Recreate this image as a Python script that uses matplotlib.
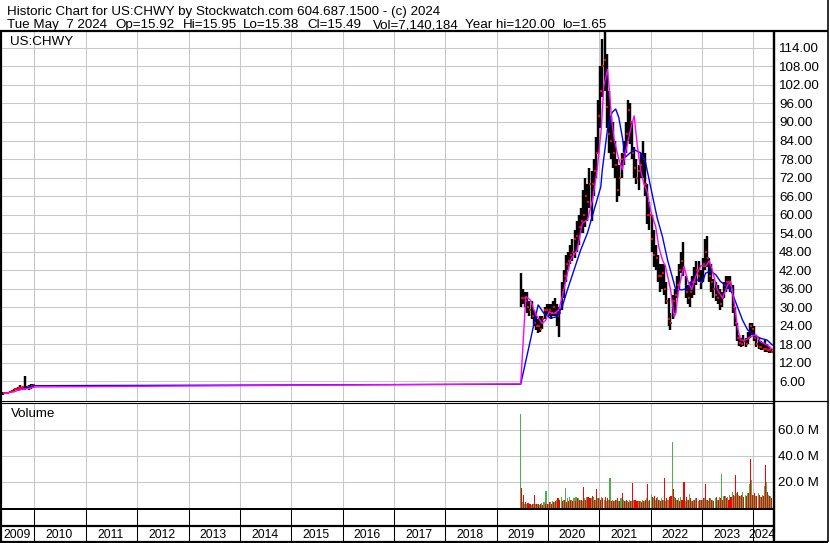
import matplotlib
matplotlib.use("Agg")
import matplotlib.pyplot as plt
import pandas as pd

plt.rcParams['font.family'] = ['Liberation Sans', 'DejaVu Sans']

W, H = 830, 543
XMIN, XMAX = 2009.367, 2024.39

# ---------------- data (half-month bars) ----------------
early_start = "2009-05-15"
early_hi = [2.4, 2.6, 2.5, 2.8, 3.2, 3.6, 3.9, 4.2, 4.6, 4.4, 7.7, 4.5, 4.8, 5.0, 5.2]
early_lo = [1.65, 1.8, 1.9, 2.0, 2.4, 2.8, 3.0, 3.2, 3.4, 3.5, 3.3, 3.4, 3.2, 3.6, 3.8]
early_cl = [2.0, 2.2, 2.1, 2.5, 2.9, 3.3, 3.6, 3.8, 3.9, 4.0, 3.6, 4.2, 3.8, 4.5, 4.6]

chwy_start = "2019-06-15"
hi = [41, 36, 35, 35, 32, 32, 29, 27, 26, 27, 27, 30, 31,                       # 2019
      31, 31, 32, 33, 31, 30, 38, 42, 47, 48, 50, 52, 55, 58, 60, 62, 68, 72, 70, 75, 74, 78, 85, 97,
      108, 117, 120, 112, 100, 92, 90, 84, 78, 76, 80, 84, 90, 97, 96, 90, 82, 78, 76, 80, 84, 80, 70, 64,
      60, 55, 50, 47, 44, 44, 44, 38, 33, 28, 34, 36, 40, 44, 48, 51, 40, 37, 38, 40, 43, 45, 45, 42,
      46, 52, 53, 46, 44, 39, 38, 37, 36, 35, 38, 40, 40, 40, 37, 30, 25, 21, 20, 21, 20, 22, 25, 25,
      24, 21, 20, 19, 18.5, 19.3, 18, 17.5, 16.5]                                   # 2024
lo = [30, 31, 30, 28, 27, 26, 24, 22.5, 21.5, 22, 23, 26, 27,
      27, 26, 27, 27, 24, 20.3, 29, 33, 38, 42, 44, 45, 46, 48, 50, 54, 54, 56, 58, 62, 58, 66, 72, 80,
      88, 98, 100, 88, 80, 78, 75, 72, 64, 66, 72, 76, 80, 84, 83, 78, 72, 70, 68, 72, 72, 66, 57, 55,
      48, 43, 42, 38, 35, 36, 34, 31, 24, 22.5, 26, 28, 33, 36, 41, 40, 33, 31, 30, 33, 34, 37, 38, 36,
      38, 42, 43, 38, 35, 33, 32, 31, 29, 30, 33, 35, 36, 35, 28, 24, 19, 17.5, 17, 17.5, 17, 18, 20, 21,
      19, 17, 16.5, 16, 16, 15.5, 15.5, 15, 15]
cl = [33, 33, 32, 30, 29, 27, 25, 24, 24, 23, 26, 29, 29,
      29, 28, 30, 28, 27, 28, 35, 40, 44, 45, 47, 48, 52, 53, 56, 58, 60, 66, 64, 70, 70, 74, 80, 92,
      100, 108, 110, 95, 86, 84, 80, 76, 68, 72, 78, 80, 86, 94, 90, 80, 75, 72, 74, 76, 78, 70, 60, 60,
      52, 47, 46, 40, 40, 41, 36, 32, 26, 25, 32, 34, 37, 42, 45, 42, 35, 33, 35, 38, 38, 42, 40, 38,
      44, 48, 46, 40, 38, 36, 34, 33, 31, 33, 37, 38, 38, 37, 30, 25, 20, 18.5, 18, 19, 18, 20, 24, 23,
      20, 18, 17, 17, 16.5, 16.5, 16, 16, 15.5]

# volume in millions: biggest up-day and down-day of each half month
vol_up = [72, 4, 3, 3, 2.5, 2, 3, 2.5, 3, 2, 3.5, 4, 12.8,
          3, 4, 5, 4, 6, 7, 8, 6, 15, 7, 8, 6, 7, 8, 7, 6, 5, 7, 8, 6, 7, 8, 6, 7,
          7, 8, 6, 5, 6, 22.6, 6, 5, 6, 5, 7, 6, 5, 5, 6, 5, 6, 4, 5, 5, 6, 5, 7, 5,
          10, 7, 6, 8, 6, 7, 6, 5, 6, 7, 50.5, 8, 6, 7, 8, 6, 5, 6, 10.8, 5, 6, 7, 5, 6,
          6, 7, 6, 5, 7, 6, 7, 6, 8, 25.6, 9, 9, 8, 10, 12, 9, 11, 10, 9, 12, 10, 11, 18, 21,
          10, 9, 11, 8, 10, 17, 19.7, 10, 9]
vol_down = [15, 10, 4, 3.5, 3, 2.5, 9.5, 3, 3, 2.5, 2, 3, 3,
            4, 3, 4, 5, 7, 6, 5, 6, 4, 5, 6, 5, 5, 7, 6, 6, 16, 6, 8, 7, 9, 6, 14, 7,
            6, 7, 8, 7, 6, 5, 5, 6, 7, 5, 11, 5, 6, 4, 5, 19, 6, 5, 5, 4, 5, 6, 18, 6,
            8, 9, 7, 6, 5, 6, 23, 7, 8, 9, 14, 7, 6, 5, 6, 20, 8, 6, 7, 5, 6, 7, 6, 6,
            7, 18, 6, 7, 6, 5, 8, 6, 7, 6, 9, 7, 6, 8, 10, 25.4, 12, 9, 10, 8, 9, 11, 37.7, 10,
            11, 9, 10, 8, 9, 32.6, 12, 9, 7]

# moving averages (decimal year, value)
ma_short_t = [2009.40, 2009.60, 2009.73, 2009.89, 2009.99, 2019.47, 2019.57, 2019.66, 2019.73, 2019.79,
              2019.89, 2019.96, 2020.02, 2020.12, 2020.21, 2020.28, 2020.35, 2020.44, 2020.57, 2020.67,
              2020.77, 2020.87, 2020.96, 2021.04, 2021.09, 2021.16, 2021.19, 2021.24, 2021.29, 2021.38,
              2021.45, 2021.51, 2021.61, 2021.68, 2021.74, 2021.81, 2021.87, 2021.94, 2022.00, 2022.10,
              2022.16, 2022.23, 2022.29, 2022.39, 2022.46, 2022.49, 2022.55, 2022.65, 2022.72, 2022.80,
              2022.88, 2022.98, 2023.07, 2023.14, 2023.20, 2023.30, 2023.40, 2023.50, 2023.56, 2023.62,
              2023.69, 2023.75, 2023.85, 2023.95, 2024.05, 2024.14, 2024.27, 2024.39]
ma_short_v = [2.0, 2.5, 3.4, 3.6, 4.1, 5.1, 33.4, 32.3, 29.0, 26.9,
              24.7, 25.8, 28.5, 27.9, 29.0, 33.4, 38.8, 45.3, 48.6, 57.2,
              58.3, 64.8, 74.6, 88.0, 101.7, 107.0, 101.7, 91.0, 84.3, 77.9,
              74.6, 80.0, 87.6, 92.0, 82.5, 74.0, 70.0, 67.0, 61.3, 56.0,
              49.5, 45.3, 43.2, 35.6, 26.9, 28.0, 36.5, 43.2, 38.8, 35.6,
              40.0, 43.5, 43.2, 45.0, 42.1, 35.6, 32.9, 37.2, 38.3, 32.3,
              23.7, 19.3, 19.3, 20.4, 21.0, 18.8, 17.7, 16.0]
ma_long_t = [2009.69, 2009.86, 2009.99, 2019.47, 2019.81, 2019.92, 2020.05, 2020.18, 2020.28, 2020.38,
             2020.51, 2020.64, 2020.77, 2020.90, 2021.03, 2021.06, 2021.16, 2021.25, 2021.32, 2021.38,
             2021.45, 2021.51, 2021.58, 2021.68, 2021.81, 2021.90, 2022.00, 2022.13, 2022.23, 2022.33,
             2022.42, 2022.49, 2022.62, 2022.72, 2022.81, 2022.91, 2023.01, 2023.07, 2023.17, 2023.27,
             2023.36, 2023.50, 2023.59, 2023.69, 2023.79, 2023.89, 2024.01, 2024.14, 2024.27, 2024.37]
ma_long_v = [3.1, 3.8, 4.5, 5.0, 30.7, 28.0, 26.4, 26.9, 30.2, 35.6,
             42.1, 48.6, 54.0, 61.5, 69.0, 74.6, 87.6, 93.1, 94.2, 91.5,
             85.0, 78.6, 79.7, 81.0, 80.0, 77.0, 69.0, 58.8, 52.9, 45.3,
             39.9, 35.6, 35.6, 36.1, 38.8, 38.8, 38.0, 41.0, 41.6, 40.5,
             38.3, 36.7, 34.5, 30.2, 25.8, 22.6, 21.0, 19.9, 19.3, 17.7]

price_ticks = list(range(6, 120, 6))
vol_ticks = [20, 40, 60]
years = list(range(2009, 2025))

header1 = "Historic Chart for US:CHWY by Stockwatch.com 604.687.1500 - (c) 2024"
header2 = [("Tue May  7 2024", 6.5), ("Op=15.92", 115), ("Hi=15.95", 183), ("Lo=15.38", 243),
           ("Cl=15.49", 307), ("Vol=7,140,184", 373), ("Year hi=120.00", 465), ("lo=1.65", 562)]


def dec_year(start, n):
    d = pd.date_range(start, periods=n, freq="SMS")
    return (d.year + (d.dayofyear - 1) / 365.25 + 1 / 48).to_numpy()


x_early = dec_year(early_start, len(early_hi))
x = dec_year(chwy_start, len(hi))
px_year = (773.3 - 2) / (XMAX - XMIN)   # pixels per year

fig = plt.figure(figsize=(W / 100, H / 100), dpi=100)
fig.patch.set_facecolor("white")


def px_axes(x0, y0, x1, y1, **kw):
    return fig.add_axes([x0 / W, 1 - y1 / H, (x1 - x0) / W, (y1 - y0) / H], **kw)


grid_kw = dict(color="#c8c8c8", lw=0.75)
FS = 9.6

# ---- price panel ----
ax = px_axes(2, 31, 773.3, 400.7)
ax.set_xlim(XMIN, XMAX)
ax.set_ylim(-0.35, 119.5)
ax.set_xticks(range(2010, 2025))
ax.set_yticks(price_ticks)
ax.set_yticklabels([f"{v:.2f}" for v in price_ticks])
ax.yaxis.tick_right()
ax.tick_params(length=0, labelbottom=False, labelright=True, pad=4.2, labelsize=FS)
ax.grid(True, **grid_kw)
for s in ax.spines.values():
    s.set_visible(False)

bw = 1.75
ax.vlines(x_early, early_lo, early_hi, colors="black", lw=bw, zorder=3)
ax.vlines(x, lo, hi, colors="black", lw=bw, zorder=3)
ax.plot(x_early + 0.8 / px_year, early_cl, "s", color="red", ms=1.7, mew=0, zorder=4)
ax.plot(x + 0.8 / px_year, cl, "s", color="red", ms=1.7, mew=0, zorder=4)
ax.plot(ma_long_t, ma_long_v, color="#0000ff", lw=1.0, zorder=5)
ax.plot(ma_short_t, ma_short_v, color="#ff00ff", lw=1.0, zorder=5)
ax.text(8 / 771.3, 1 - 11 / 369.7, "US:CHWY", transform=ax.transAxes, fontsize=FS, va="center", ha="left")

# ---- volume panel ----
vax = px_axes(2, 402.7, 773.3, 507.5)
vax.set_xlim(XMIN, XMAX)
vax.set_ylim(0, 81)
vax.set_xticks(range(2010, 2025))
vax.set_yticks(vol_ticks)
vax.set_yticklabels([f"{v:.1f} M" for v in vol_ticks])
vax.yaxis.tick_right()
vax.tick_params(length=0, labelbottom=False, labelright=True, pad=3.5, labelsize=FS)
vax.grid(True, **grid_kw)
for s in vax.spines.values():
    s.set_visible(False)
one_px = 1 / px_year
vax.bar(x - 0.55 * one_px, vol_up, width=one_px * 1.1, color="#4cb050", zorder=3)
vax.bar(x + 0.55 * one_px, vol_down, width=one_px * 1.1, color="#ff0000", zorder=3)
vax.text(9 / 771.3, 1 - 11 / 104.8, "Volume", transform=vax.transAxes, fontsize=FS, va="center", ha="left")

# ---- date strip ----
dax = px_axes(2, 508.5, 773.3, 541.5)
dax.set_xlim(XMIN, XMAX)
dax.set_ylim(541.5, 508.5)
dax.axis("off")
dax.vlines(range(2010, 2025), 508.5, 541.5, colors="black", lw=0.75)
for yr in years:
    a, b = max(yr, XMIN), min(yr + 1, XMAX)
    dax.text((a + b) / 2 - 0.02, 534.5, str(yr), ha="center", va="center", fontsize=8.8)

# ---- frame lines and header (pixel coordinates) ----
ov = fig.add_axes([0, 0, 1, 1], zorder=10)
ov.set_xlim(0, W)
ov.set_ylim(H, 0)
ov.axis("off")
ov.patch.set_alpha(0)
k = 0.72
frame = [
    ((0, 828), (31, 31), 2.2),
    ((1, 1), (31, 542), 2.2),
    ((827.5, 827.5), (0, 542), 1.6),
    ((774.4, 774.4), (31, 542), 2.4),
    ((774, 828), (401, 401), 1.2),
    ((0, 828), (541.5, 541.5), 2.2),
    ((0, 774), (526, 526), 2.2),
    ((0, 774), (508.5, 508.5), 2.0),
    ((0, 774), (400.8, 400.8), 1.1),
    ((0, 774), (402.8, 402.8), 1.1),
]
for xs, ys, w in frame:
    ov.plot(xs, ys, color="black", lw=w * k, solid_capstyle="butt")

ov.text(6.5, 14.5, header1, fontsize=FS, va="baseline", ha="left")
for txt, xp in header2:
    ov.text(xp, 28, txt, fontsize=FS, va="baseline", ha="left")

fig.savefig("out.png", dpi=100)
